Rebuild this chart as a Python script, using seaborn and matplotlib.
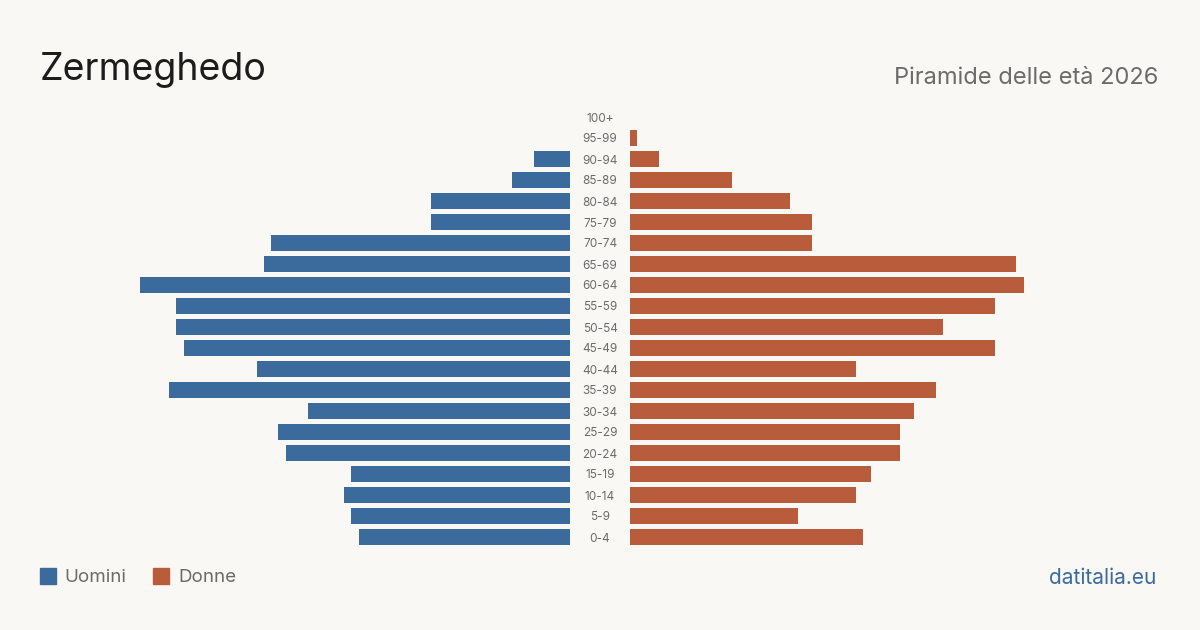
import pandas as pd
import numpy as np
import matplotlib.pyplot as plt
import seaborn as sns

ages = ["100+", "95-99", "90-94", "85-89", "80-84", "75-79", "70-74", "65-69",
        "60-64", "55-59", "50-54", "45-49", "40-44", "35-39", "30-34", "25-29",
        "20-24", "15-19", "10-14", "5-9", "0-4"]
uomini = [0, 0, 5, 8, 19, 19, 41, 42, 59, 54, 54, 53, 43, 55, 36, 40, 39, 30, 31, 30, 29]
donne = [0, 1, 4, 14, 22, 25, 25, 53, 54, 50, 43, 50, 31, 42, 39, 37, 37, 33, 31, 23, 32]

bg = "#faf8f4"
blu = "#3a6b9c"
rosso = "#b95c3c"
grigio = "#6b6b6b"

sns.set_theme(style="white")
plt.rcParams["font.family"] = ["Inter", "DejaVu Sans"]

df = pd.DataFrame({"eta": ages, "Uomini": uomini, "Donne": donne})

fig = plt.figure(figsize=(12, 6.3), dpi=100, facecolor=bg)
bottom = 1 - 547.5 / 630
height = 441 / 630
ax_l = fig.add_axes([40 / 1200, bottom, 530 / 1200, height])
ax_r = fig.add_axes([630 / 1200, bottom, 530 / 1200, height])

sns.barplot(data=df, x="Uomini", y="eta", order=ages, color=blu, width=0.8,
            saturation=1, linewidth=0, ax=ax_l)
sns.barplot(data=df, x="Donne", y="eta", order=ages, color=rosso, width=0.8,
            saturation=1, linewidth=0, ax=ax_r)

xmax = 530 / 7.29
ax_l.set_xlim(xmax, 0)
ax_r.set_xlim(0, xmax)
for ax in (ax_l, ax_r):
    ax.set_ylim(20.5, -0.5)
    ax.set_facecolor(bg)
    ax.set_xlabel("")
    ax.set_ylabel("")
    ax.set_xticks([])
    ax.set_yticks([])
    sns.despine(ax=ax, left=True, bottom=True)

for i, a in enumerate(ages):
    y = (118.5 + 21 * i) / 630
    fig.text(600 / 1200, 1 - y, a, ha="center", va="center", fontsize=8.5, color=grigio)

fig.text(40 / 1200, 1 - 80 / 630, "Zermeghedo", fontsize=27, color="#1c1c1c",
         ha="left", va="baseline")
fig.text(1158 / 1200, 1 - 84 / 630, "Piramide delle età 2026", fontsize=17,
         color=grigio, ha="right", va="baseline")

# legenda
fig.patches.append(plt.Rectangle((40 / 1200, 1 - 584 / 630), 16 / 1200, 16 / 630,
                                 transform=fig.transFigure, color=blu))
fig.text(64 / 1200, 1 - 578 / 630, "Uomini", fontsize=13.5, color=grigio,
         ha="left", va="center")
fig.patches.append(plt.Rectangle((153 / 1200, 1 - 584 / 630), 16 / 1200, 16 / 630,
                                 transform=fig.transFigure, color=rosso))
fig.text(178 / 1200, 1 - 578 / 630, "Donne", fontsize=13.5, color=grigio,
         ha="left", va="center")

fig.text(1156 / 1200, 1 - 578 / 630, "datitalia.eu", fontsize=15, color=blu,
         ha="right", va="center")

fig.savefig("out.png", dpi=100, facecolor=bg)
